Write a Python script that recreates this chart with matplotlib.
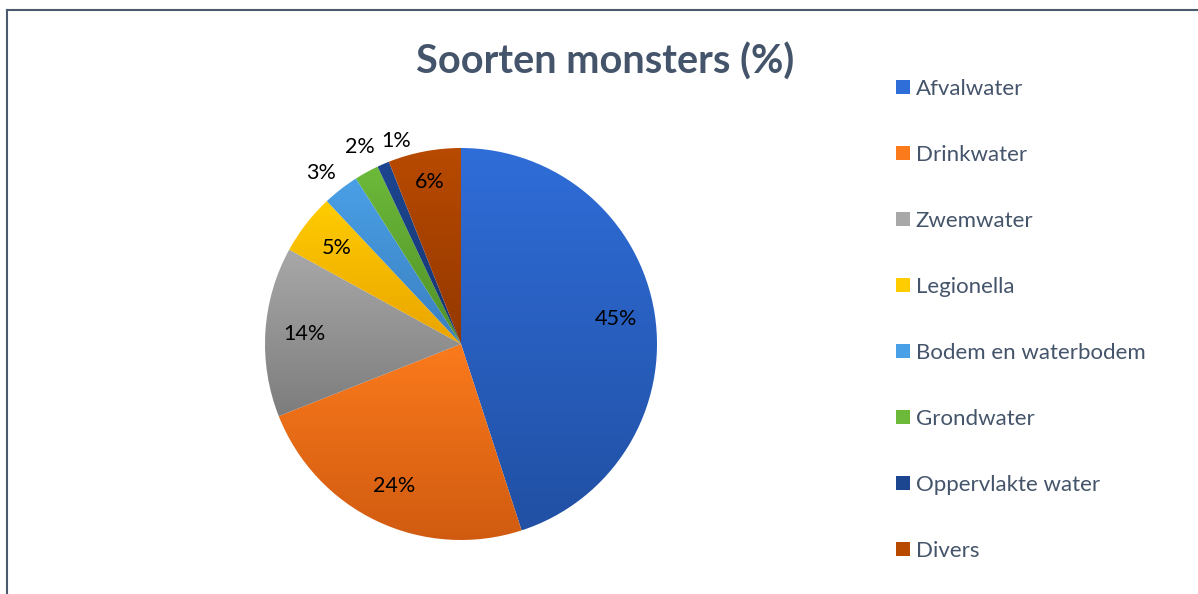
import matplotlib.pyplot as plt
import matplotlib.colors as mcolors
import numpy as np

plt.rcParams['font.family'] = ['Lato', 'DejaVu Sans']

categories = ["Afvalwater", "Drinkwater", "Zwemwater", "Legionella",
              "Bodem en waterbodem", "Grondwater", "Oppervlakte water", "Divers"]
values = [45, 24, 14, 5, 3, 2, 1, 6]
title = "Soorten monsters (%)"

# kleur boven / onder (verloop zoals in Excel)
top_colors = ["#2f6dd8", "#fb7a1c", "#a8a8a8", "#ffcc00",
              "#4aa0e6", "#6dba3a", "#1d4690", "#b84a00"]
bottom_colors = ["#2150a4", "#cf5a10", "#7d7d7d", "#eaa400",
                 "#3a7fc0", "#4f9028", "#163570", "#943800"]

W, H = 1198, 594
fig = plt.figure(figsize=(W / 100, H / 100), dpi=100)

# kader
fig.add_artist(plt.Line2D([7 / W, 7 / W], [0, 1 - 10 / H], color="#4b5a6e", lw=1.5))
fig.add_artist(plt.Line2D([7 / W, 1], [1 - 10 / H, 1 - 10 / H], color="#4b5a6e", lw=1.5))

cx, cy, r = 461, 344, 196
ax = fig.add_axes([(cx - r) / W, (H - cy - r) / H, 2 * r / W, 2 * r / H])

wedges, texts, autotexts = ax.pie(values, startangle=90, counterclock=False,
                                  autopct='%1.0f%%', pctdistance=0.8,
                                  textprops=dict(fontsize=15.5, color="black"))
ax.set_aspect("equal")
ax.axis("off")

grad = np.linspace(1, 0, 256).reshape(-1, 1)
for w, ct, cb in zip(wedges, top_colors, bottom_colors):
    w.set_facecolor("none")
    w.set_edgecolor("none")
    verts = w.get_path().vertices
    x0, x1 = verts[:, 0].min(), verts[:, 0].max()
    y0, y1 = verts[:, 1].min(), verts[:, 1].max()
    cmap = mcolors.LinearSegmentedColormap.from_list("g", [cb, ct])
    im = ax.imshow(grad, cmap=cmap, extent=[x0, x1, y0, y1], aspect="auto",
                   origin="upper", zorder=1)
    im.set_clip_path(w)

ax.set_xlim(-1, 1)
ax.set_ylim(-1, 1)

# labelposities afwijkend van standaard (afstand, hoekverschuiving)
moved = {3: (1.13, 1.5), 2: (1.13, -1.5), 1: (1.09, -5.6), 6: (0.84, 0)}
theta = 90.0
for v, t in zip(values, autotexts):
    mid = theta - v * 3.6 / 2
    theta -= v * 3.6
    t.set_zorder(5)
    if v in moved:
        d, off = moved[v]
        a = np.deg2rad(mid + off)
        t.set_position((d * np.cos(a), d * np.sin(a)))
        t.set_clip_on(False)

fig.text(605 / W, 1 - 62 / H, title, ha="center", va="center",
         fontsize=28.5, fontweight="bold", color="#44546a")

handles = [plt.Rectangle((0, 0), 1, 1, facecolor=c) for c in top_colors]
leg = fig.legend(handles, categories, loc="upper left",
                 bbox_to_anchor=(896 / W, 1 - 79 / H), frameon=False,
                 fontsize=16, labelcolor="#44546a", handlelength=0.63,
                 handleheight=0.63, handletextpad=0.25, labelspacing=2.07,
                 borderaxespad=0, borderpad=0)

fig.savefig("out.png", dpi=100)
